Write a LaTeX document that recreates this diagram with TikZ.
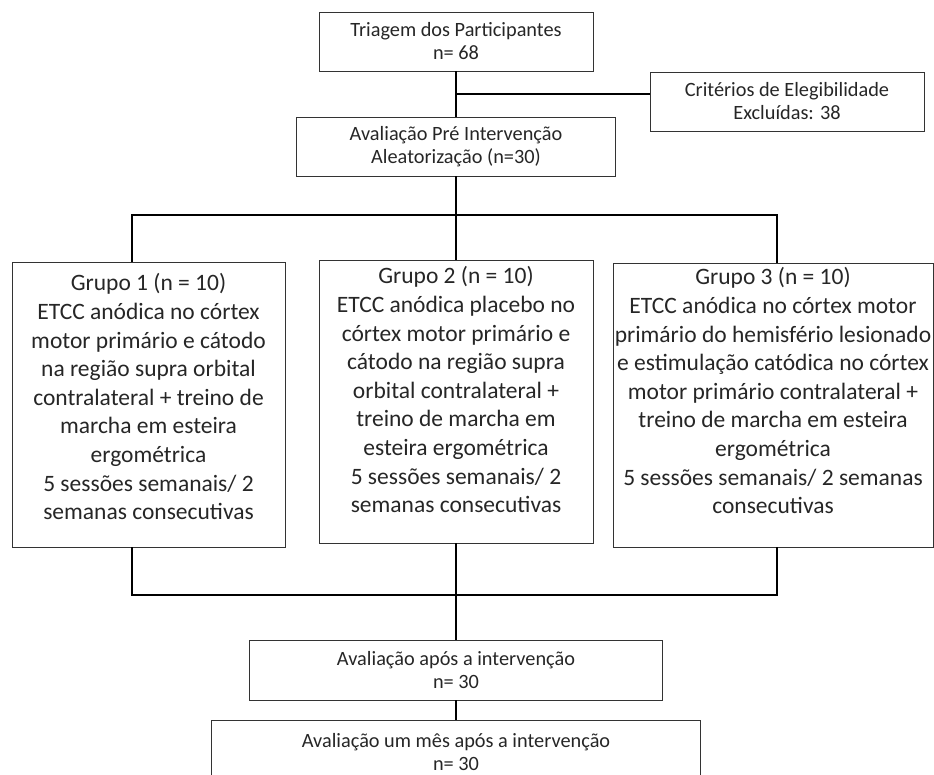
\documentclass[tikz,border=0pt]{standalone}
\usepackage{fontspec}
\setmainfont{Carlito}
\usetikzlibrary{positioning}
\tikzset{
    flowbox/.style={draw=black!80, line width=0.9pt, inner sep=0pt, align=center, text=black!85, font=\fontsize{20.3}{23}\selectfont},
    grupobox/.style={draw=black!80, line width=0.9pt, inner sep=0pt},
    grupotext/.style={inner sep=0pt, align=center, text=black!85, font=\fontsize{23.5}{28.6}\selectfont},
    conector/.style={line width=2.6pt, line join=miter}
}

\begin{document}
\begin{tikzpicture}[x=1pt, y=-1pt]
    % Page
    \useasboundingbox (0,0) rectangle (934,774);
    \clip (0,0) rectangle (934,774);

    % Globals
    \pgfmathsetmacro{\boxH}{59}
    \pgfmathsetmacro{\busTopY}{215}
    \pgfmathsetmacro{\busBotY}{595}
    \pgfmathsetmacro{\busXMin}{132}
    \pgfmathsetmacro{\busXMax}{777}

    % Top boxes
    \node[flowbox, minimum width=274, minimum height=\boxH] (TRIAGEM) at (456,41.5) {Triagem dos Participantes\\n= 68};
    \node[flowbox, minimum width=274, minimum height=\boxH] (CRIT) at (787,101.5) {Critérios de Elegibilidade\\Excluídas: 38};
    \node[flowbox, minimum width=319, minimum height=\boxH] (PRE) at (456,146.5) {Avaliação Pré Intervenção\\Aleatorização (n=30)};

    \coordinate (SPLIT) at (456,94);
    \draw[conector] (TRIAGEM.south) -- (PRE.north);
    \draw[conector] (SPLIT) -- (SPLIT -| CRIT.west);

    % Group boxes
    \node[grupobox, minimum width=273, minimum height=285] (G1) at (148.5,404.5) {};
    \node[grupobox, minimum width=274, minimum height=283] (G2) at (456,401.5) {};
    \node[grupobox, minimum width=320, minimum height=284] (G3) at (773,405) {};

    \node[grupotext, below=12pt of G1.north] (G1_TXT) {Grupo 1 (n = 10)\\ETCC anódica no córtex\\motor primário e cátodo\\na região supra orbital\\contralateral + treino de\\marcha em esteira\\ergométrica\\5 sessões semanais/ 2\\semanas consecutivas};
    \node[grupotext, below=7pt of G2.north] (G2_TXT) {Grupo 2 (n = 10)\\ETCC anódica placebo no\\córtex motor primário e\\cátodo na região supra\\orbital contralateral +\\treino de marcha em\\esteira ergométrica\\5 sessões semanais/ 2\\semanas consecutivas};
    \node[grupotext, below=5pt of G3.north] (G3_TXT) {Grupo 3 (n = 10)\\ETCC anódica no córtex motor\\primário do hemisfério lesionado\\e estimulação catódica no córtex\\motor primário contralateral +\\treino de marcha em esteira\\ergométrica\\5 sessões semanais/ 2 semanas\\consecutivas};

    % Top bus
    \coordinate (BUS_W) at (\busXMin,\busTopY);
    \coordinate (BUS_E) at (\busXMax,\busTopY);
    \draw[conector] (PRE.south) -- (G2.north);
    \draw[conector] (G1.north -| BUS_W) -- (BUS_W) -- (BUS_E) -- (G3.north -| BUS_E);

    % Bottom boxes
    \node[flowbox, minimum width=413, minimum height=60] (APOS) at (456,670) {Avaliação após a intervenção\\n= 30};
    \node[flowbox, minimum width=489, minimum height=64] (MES) at (456,752) {Avaliação um mês após a intervenção\\n= 30};

    % Bottom bus
    \coordinate (BOT_W) at (\busXMin,\busBotY);
    \coordinate (BOT_E) at (\busXMax,\busBotY);
    \draw[conector] (G1.south -| BOT_W) -- (BOT_W) -- (BOT_E) -- (G3.south -| BOT_E);
    \draw[conector] (G2.south) -- (APOS.north);
    \draw[conector] (APOS.south) -- (MES.north);

\end{tikzpicture}
\end{document}
